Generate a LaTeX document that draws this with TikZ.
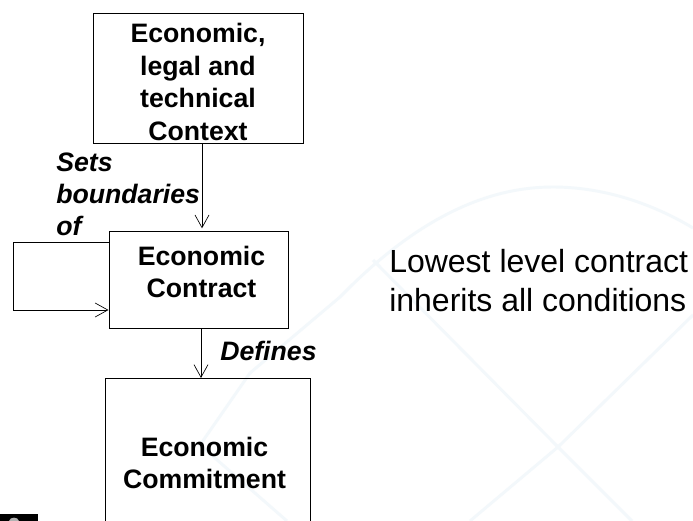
\documentclass[tikz,border=0pt]{standalone}
\usepackage{fontspec}
\setmainfont{Liberation Sans}
\usetikzlibrary{arrows.meta}
\definecolor{wm}{RGB}{243,248,251}
\tikzset{
  x=0.75pt,y=-0.75pt,
  boxn/.style={draw=black,line width=0.8pt,inner sep=0pt,anchor=north west},
  txtn/.style={align=center,inner sep=0pt,font=\bfseries\fontsize{20}{24}\selectfont},
  lbl/.style={align=left,anchor=north west,inner sep=0pt,font=\bfseries\itshape\fontsize{20}{24}\selectfont},
  conn/.style={draw=black,line width=0.6pt,-{Straight Barb[length=9.5pt,width=10.5pt,line width=0.5pt]}},
  wmline/.style={draw=wm,line width=2.2pt}
}
\begin{document}
\begin{tikzpicture}
\useasboundingbox (0,0) rectangle (693,521);
\fill[white] (0,0) rectangle (693,521);
\begin{scope}
\clip (0,0) rectangle (693,521);
\draw[wmline] (250,373) -- (340,297) .. controls (420,215) and (490,187) .. (553,187) .. controls (610,187) and (660,208) .. (693,228);
\draw[wmline] (373,260) -- (558,447) -- (632,521);
\draw[wmline] (693,315) -- (558,447) -- (470,521);
\draw[wmline] (250,373) -- (200,445) -- (287,521);
\fill[black] (0,514) rectangle (38,521);
\fill[gray!60] (9,521) .. controls (10,516.5) and (18,516.5) .. (19,521) -- cycle;
\end{scope}
\node[boxn,minimum width=157.5pt,minimum height=97.5pt] (ctx) at (93,13) {};
\node[txtn,font=\bfseries\fontsize{20}{24.4}\selectfont] (ctxt) at (198,82) {Economic,\\legal and\\technical\\Context};
\node[boxn,minimum width=134.25pt,minimum height=72.75pt] (con) at (108.5,231) {};
\node[txtn] (cont) at (201.5,272) {Economic\\Contract};
\node[boxn,minimum width=153.75pt,minimum height=150pt] (com) at (105,378) {};
\node[txtn] (comt) at (204.5,463) {Economic\\Commitment};
\coordinate (loopa) at (13.5,242);
\coordinate (loopb) at (13.5,310);
\draw[conn] (ctx.south -| 202,0) -- ([yshift=2pt]con.north -| 202,0);
\draw[conn] (con.south -| 201,0) -- (com.north -| 201,0);
\draw[conn] (con.west |- loopa) -- (loopa) -- (loopb) -- (con.west |- loopb);
\node[lbl] (l1) at (56,153) {Sets\\boundaries\\of};
\node[lbl] (l2) at (220,341) {Defines};
\node[align=left,anchor=north west,inner sep=0pt,font=\fontsize{24}{29.25}\selectfont] (t) at (389,249) {Lowest level contract\\inherits all conditions};
\end{tikzpicture}
\end{document}
